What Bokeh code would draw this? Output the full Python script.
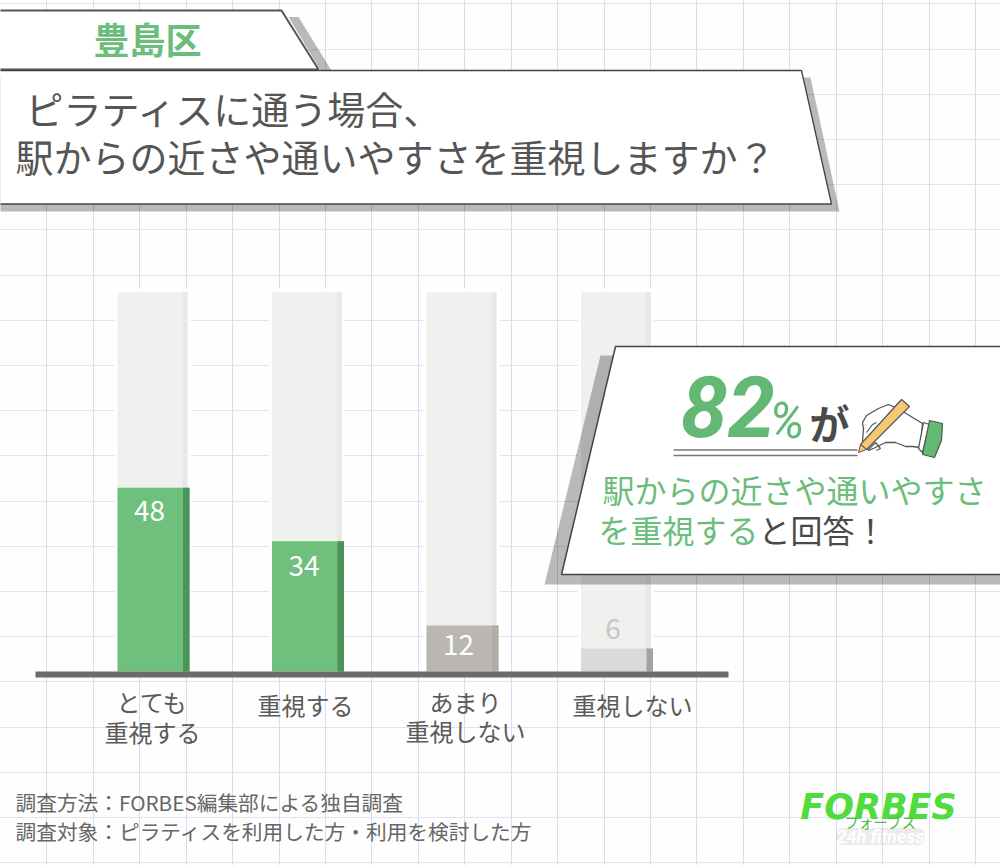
import numpy as np
from bokeh.plotting import figure
from bokeh.models import Range1d, FixedTicker
from bokeh.core.properties import value
from bokeh.embed import file_html
from bokeh.resources import INLINE

# ---- data ----
categories = ["とても\n重視する", "重視する", "あまり\n重視しない", "重視しない"]
values = [48, 34, 12, 6]
track_total = [99, 99, 99, 99]
bar_colors = ["#6fbf7d", "#6fbf7d", "#b9b6b3", "#dcdad9"]
strip_colors = ["#4a9457", "#4a9457", "#b0aeab", "#a5a3a1"]
label_colors = ["#ffffff", "#ffffff", "#ffffff", "#c6c6c2"]

region = "豊島区"
title_lines = ["ピラティスに通う場合、", "駅からの近さや通いやすさを重視しますか？"]
headline_num = "82"
headline_pct = "%"
headline_ga = "が"
callout_1 = "駅からの近さや通いやすさ"
callout_2a = "を重視する"
callout_2b = "と回答！"
notes = ["調査方法：FORBES編集部による独自調査", "調査対象：ピラティスを利用した方・利用を検討した方"]

# ---- layout constants (page pixels) ----
W, H = 1000, 865
X_STEP, X_FIRST = 154.5, 153.0
Y_BASE, Y_UNIT = 671.0, 3.83
JP = value("Noto Sans CJK JP")
GREEN = "#6cbd7b"
DARK = "#555555"

p = figure(width=W, height=H, output_backend="svg", toolbar_location=None,
           x_range=Range1d(0, W), y_range=Range1d(H, 0),
           min_border=0, outline_line_color=None, background_fill_color="#fefefe",
           border_fill_color="#fefefe")
p.extra_x_ranges["cat"] = Range1d((0 - X_FIRST) / X_STEP, (W - X_FIRST) / X_STEP)
p.extra_y_ranges["val"] = Range1d((Y_BASE - H) / Y_UNIT, Y_BASE / Y_UNIT)
p.xaxis.visible = False
p.yaxis.visible = False

# graph paper
p.xgrid.ticker = FixedTicker(ticks=[46.43 * k for k in range(0, 22)])
p.ygrid.ticker = FixedTicker(ticks=[3.3 + 45.2 * k for k in range(0, 20)])
p.xgrid.grid_line_color = "#d8dcf1"
p.ygrid.grid_line_color = "#e0e3f4"
p.xgrid.grid_line_width = 1
p.ygrid.grid_line_width = 1

idx = np.arange(len(values))
px = 1 / X_STEP
cat = dict(x_range_name="cat", y_range_name="val")

# white halo round the tracks
p.vbar(x=idx - 1 * px, width=76 * px, bottom=0, top=[t + 1 for t in track_total], fill_color="#ffffff",
       line_color=None, **cat)
# tracks
p.vbar(x=idx - 1 * px, width=70 * px, bottom=0, top=track_total, fill_color="#eff1ee",
       line_color=None, **cat)
p.vbar(x=idx + 31.5 * px, width=5 * px, bottom=0, top=track_total, fill_color="#e8e9e7",
       line_color=None, **cat)
# value bars
p.vbar(x=idx, width=72 * px, bottom=0, top=values, fill_color=bar_colors, line_color=None, **cat)
p.vbar(x=idx + 32.75 * px, width=6.5 * px, bottom=0, top=values, fill_color=strip_colors,
       line_color=None, **cat)
# baseline
p.quad(left=[35], right=[728], top=[671], bottom=[677], fill_color="#6b6b6b", line_color=None)

# value labels
p.text(x=idx - 4 * px, y=values, text=[str(v) for v in values], text_color=label_colors,
       text_font=JP, text_font_size="28px", text_align="center", text_baseline="middle",
       y_offset=[23, 24, 19, -20], **cat)

# category labels
lx, ly, lt, lo = [], [], [], []
label_shift = [-1, -2.5, 3, 15.5]
for i, c in enumerate(categories):
    parts = c.split("\n")
    for j, t in enumerate(parts):
        lx.append(i); lt.append(t); lo.append(label_shift[i])
        ly.append(0)
offs = [30, 60, 33, 30, 59, 33]
p.text(x=lx, y=ly, text=lt, x_offset=lo, y_offset=offs, text_color="#5a5a5a", text_font=JP,
       text_font_size="24px", text_align="center", text_baseline="middle", **cat)

SH = dict(fill_color="#000000", fill_alpha=0.27, line_color=None)
# badge
p.patch([288, 298, 331, 320], [16.5, 16.5, 70, 70], **SH)
p.patch([-4, 281, 318, -4], [10, 10, 69, 69], fill_color="#ffffff", line_color="#555555", line_width=2)
p.text(x=[147], y=[37], text=[region], text_color=GREEN, text_font=JP, text_font_style="bold",
       text_font_size="36px", text_align="center", text_baseline="middle")
# title panel
p.patch([-4, 810, 839, -4], [77, 77, 211, 211], **SH)
p.patch([-4, 801, 831, -4], [70, 70, 203.5, 203.5], fill_color="#ffffff", line_color="#444444", line_width=1.3)
p.text(x=[25, 15], y=[107, 155], text=title_lines, text_color=DARK, text_font=JP,
       text_font_size="38px", text_align="left", text_baseline="middle")

# callout panel
p.patch([600, 1010, 1010, 544], [355, 355, 584, 584], **SH)
p.patch([615, 1010, 1010, 561], [346, 346, 574, 574], fill_color="#ffffff", line_color="#444444", line_width=1.5)
p.text(x=[680], y=[406], text=[headline_num], text_color="#63b873", text_font=value("Roboto"),
       text_font_style="bold italic", text_font_size="85px", text_align="left", text_baseline="middle")
p.text(x=[769], y=[421], text=[headline_pct], text_color="#63b873", text_font=value("Roboto"),
       text_font_style="italic", text_font_size="49px", text_align="left", text_baseline="middle")
p.text(x=[809], y=[421], text=[headline_ga], text_color="#4a4a4a", text_font=JP, text_font_style="bold",
       text_font_size="40px", text_align="left", text_baseline="middle")
p.multi_line([[673, 857], [673, 857]], [[449.5, 449.5], [455, 455]], line_color="#777777", line_width=1.5)
p.text(x=[602], y=[488], text=[callout_1], text_color=GREEN, text_font=JP, text_font_size="32px",
       text_align="left", text_baseline="middle")
p.text(x=[598], y=[528], text=[callout_2a], text_color=GREEN, text_font=JP, text_font_size="32px",
       text_align="left", text_baseline="middle")
p.text(x=[758], y=[528], text=[callout_2b], text_color="#4a4a4a", text_font=JP, text_font_size="32px",
       text_align="left", text_baseline="middle")

# hand with pencil (decoration)
OUT = "#555555"
hand_x = [862, 863, 862, 866, 878, 888, 899]
hand_y = [440, 428, 422, 415, 408, 404, 409]
p.patch(hand_x + [922, 920, 912, 905, 895, 885, 875, 868],
        hand_y + [423, 447, 446, 446, 442, 442, 447, 450],
        fill_color="#ffffff", line_color=OUT, line_width=1.3)
p.patch([901, 909, 866, 860], [399, 406, 449, 444], fill_color="#f7c873", line_color=OUT, line_width=1.2)
p.patch([860, 866, 858], [444, 449, 452], fill_color="#f7c873", line_color=OUT, line_width=1.0)
p.patch([923, 929, 922, 918], [422, 424, 452, 448], fill_color="#ffffff", line_color=OUT, line_width=1.3)
p.patch([929, 942, 941, 934, 922], [420, 423, 440, 457, 454], fill_color="#63b873", line_color=OUT, line_width=1.2)
p.line([866, 872, 876], [432, 424, 422], line_color=OUT, line_width=1.2)
p.line([868, 875, 880, 876], [449, 442, 448, 450], line_color=OUT, line_width=1.2)

# notes
p.text(x=[15, 15], y=[801, 830], text=notes, text_color="#666666", text_font=JP, text_font_size="20.7px",
       text_align="left", text_baseline="middle")

# logo
p.rect(x=[880], y=[836], width=88, height=17, fill_color="#000000", fill_alpha=0.07, line_color=None,
       border_radius=6)
p.text(x=[878], y=[806], text=["FORBES"], text_color="#4fdc3c", text_font=value("DejaVu Sans"),
       text_font_style="bold italic", text_font_size="35px", text_align="center", text_baseline="middle")
p.text(x=[880], y=[821], text=["フォーブス"], text_color="#4fb84a", text_font=JP, text_font_size="14.5px",
       text_align="center", text_baseline="middle")
p.text(x=[880], y=[836], text=["24h fitness"], text_color="#ffffff", text_font=value("Roboto"),
       text_font_style="bold italic", text_font_size="18px", text_align="center", text_baseline="middle")

open("out.html", "w").write(file_html(p, INLINE))
